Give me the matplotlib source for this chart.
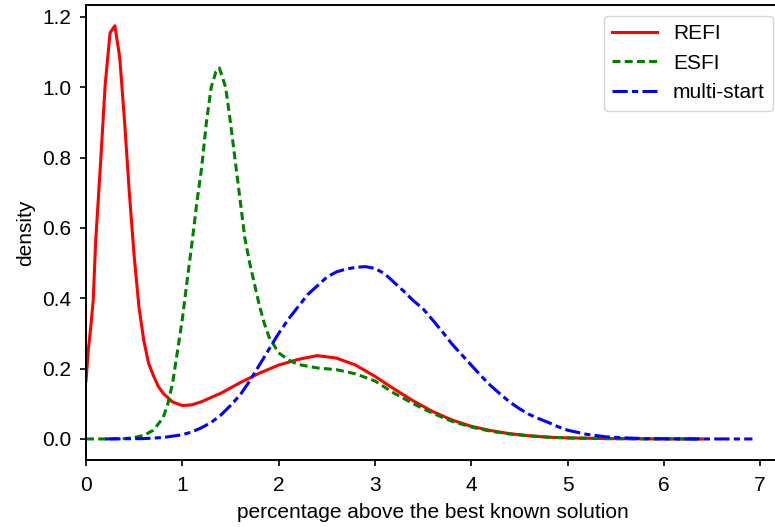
import matplotlib
matplotlib.use("Agg")
import matplotlib.pyplot as plt

plt.rcParams['font.family'] = ['Liberation Sans', 'DejaVu Sans']
plt.rcParams['font.size'] = 15

# REFI
refi_x = [0.0, 0.025, 0.05, 0.075, 0.1, 0.15, 0.2, 0.25, 0.3, 0.35, 0.4, 0.45, 0.5, 0.55, 0.6,
          0.65, 0.7, 0.75, 0.8, 0.9, 1.0, 1.1, 1.2, 1.4, 1.6, 1.8, 2.0, 2.2, 2.4, 2.6, 2.8,
          3.0, 3.2, 3.4, 3.6, 3.8, 4.0, 4.2, 4.4, 4.6, 4.8, 5.0, 5.4, 5.8, 6.4]
refi_y = [0.165, 0.255, 0.32, 0.395, 0.56, 0.78, 1.01, 1.155, 1.175, 1.085, 0.905, 0.70, 0.52,
          0.375, 0.28, 0.215, 0.18, 0.15, 0.13, 0.105, 0.095, 0.097, 0.106, 0.13, 0.16, 0.187,
          0.21, 0.226, 0.237, 0.23, 0.21, 0.178, 0.142, 0.108, 0.078, 0.054, 0.036, 0.024,
          0.015, 0.009, 0.005, 0.003, 0.001, 0.0003, 0.0]

# ESFI
esfi_x = [0.0, 0.2, 0.4, 0.5, 0.6, 0.7, 0.8, 0.85, 0.9, 0.95, 1.0, 1.05, 1.1, 1.15, 1.2, 1.25,
          1.3, 1.35, 1.385, 1.45, 1.5, 1.55, 1.6, 1.65, 1.7, 1.75, 1.8, 1.85, 1.9, 2.0, 2.1,
          2.2, 2.4, 2.6, 2.8, 3.0, 3.2, 3.4, 3.6, 3.8, 4.0, 4.2, 4.4, 4.6, 4.8, 5.0, 5.4, 5.8, 6.4]
esfi_y = [0.0, 0.0, 0.001, 0.004, 0.01, 0.025, 0.06, 0.10, 0.16, 0.25, 0.34, 0.45, 0.556, 0.67,
          0.77, 0.9, 1.0, 1.045, 1.055, 1.0, 0.9, 0.79, 0.68, 0.57, 0.50, 0.44, 0.38, 0.33, 0.29,
          0.245, 0.225, 0.212, 0.202, 0.197, 0.185, 0.165, 0.13, 0.10, 0.073, 0.05, 0.034,
          0.022, 0.014, 0.009, 0.005, 0.003, 0.001, 0.0003, 0.0]

# multi-start
ms_x = [0.2, 0.6, 0.8, 1.0, 1.1, 1.2, 1.3, 1.4, 1.5, 1.6, 1.7, 1.8, 1.9, 2.0, 2.1, 2.2, 2.3,
        2.4, 2.5, 2.6, 2.7, 2.8, 2.9, 3.0, 3.1, 3.2, 3.3, 3.4, 3.5, 3.6, 3.7, 3.8, 3.9, 4.0,
        4.1, 4.2, 4.3, 4.4, 4.5, 4.6, 4.7, 4.8, 4.9, 5.0, 5.2, 5.4, 5.6, 5.8, 6.2, 6.92]
ms_y = [0.0, 0.001, 0.004, 0.012, 0.02, 0.032, 0.047, 0.068, 0.095, 0.125, 0.165, 0.21, 0.255,
        0.30, 0.34, 0.375, 0.41, 0.435, 0.46, 0.475, 0.483, 0.488, 0.49, 0.485, 0.47, 0.445,
        0.42, 0.393, 0.37, 0.338, 0.305, 0.27, 0.24, 0.21, 0.18, 0.152, 0.128, 0.105, 0.086,
        0.07, 0.058, 0.047, 0.035, 0.025, 0.013, 0.006, 0.003, 0.001, 0.0, 0.0]

labels = ["REFI", "ESFI", "multi-start"]
xlabel = "percentage above the best known solution"
ylabel = "density"

fig = plt.figure(figsize=(7.75, 5.27), dpi=100)
ax = fig.add_axes([86 / 775, 1 - 459.7 / 527, 693.4 / 775, 454.7 / 527])

ax.plot(refi_x, refi_y, color="red", lw=2.2, label=labels[0])
ax.plot(esfi_x, esfi_y, color="green", lw=2.2, dashes=(2.6, 1.4), label=labels[1])
ax.plot(ms_x, ms_y, color="blue", lw=2.2, dashes=(5, 1.4, 2, 1.4), label=labels[2])

ax.set_xlim(0, 7.2)
ax.set_ylim(-0.059, 1.234)
ax.set_xticks(range(0, 8))
ax.set_yticks([0.0, 0.2, 0.4, 0.6, 0.8, 1.0, 1.2])
ax.set_yticklabels(["0.0", "0.2", "0.4", "0.6", "0.8", "1.0", "1.2"])
ax.set_xlabel(xlabel, labelpad=6)
ax.set_ylabel(ylabel, labelpad=5)
ax.tick_params(labelsize=15, length=4.5, width=1.2)
ax.tick_params(axis="y", pad=6)
ax.tick_params(axis="x", pad=7)
for s in ax.spines.values():
    s.set_linewidth(1.4)

ax.legend(loc="upper right", bbox_to_anchor=(773 / 775, 1 - 16 / 527),
          bbox_transform=fig.transFigure, borderaxespad=0, fontsize=15,
          handlelength=2.15, handletextpad=0.75, labelspacing=0.5)

fig.savefig("out.png", dpi=100)
